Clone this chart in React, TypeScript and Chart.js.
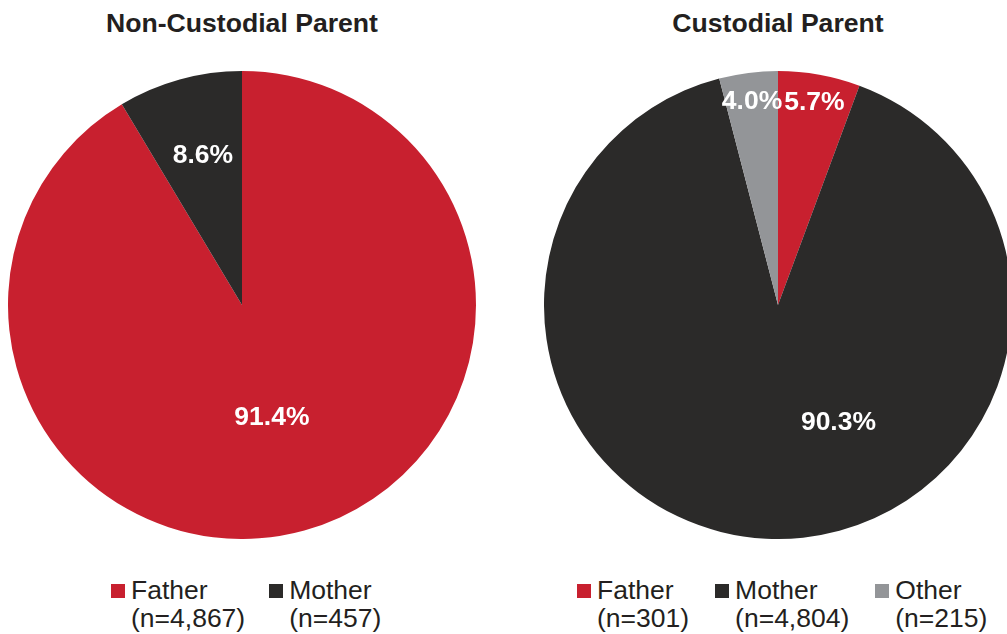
import React, { useEffect, useRef } from "react";
import { Chart, registerables } from "chart.js";

Chart.register(...registerables);

// ---- Data ----
const leftTitle = "Non-Custodial Parent";
const leftCategories = ["Father", "Mother"];
const leftCounts = [4867, 457];
const leftColors = ["#C8202F", "#2B2A29"];
// label placement: [fraction along slice angle, fraction of radius]
const leftLabelAngleFrac = [0.502, 0.525];
const leftLabelRadiusFrac = [0.5, 0.66];

const rightTitle = "Custodial Parent";
const rightCategories = ["Father", "Mother", "Other"];
const rightCounts = [301, 4804, 215];
const rightColors = ["#C8202F", "#2B2A29", "#939598"];
const rightLabelAngleFrac = [0.5, 0.4075, 0.5];
const rightLabelRadiusFrac = [0.88, 0.566, 0.876];

const FONT = "'Liberation Sans', Arial, Helvetica, sans-serif";
const TEXT_COLOR = "#231F20";

const fmtN = (n: number) => n.toLocaleString("en-US");

function makeLabelPlugin(angleFrac: number[], radiusFrac: number[]) {
  return {
    id: "sliceLabels",
    afterDatasetsDraw(chart: any) {
      const ctx = chart.ctx;
      const meta = chart.getDatasetMeta(0);
      const data: number[] = chart.data.datasets[0].data;
      const total = data.reduce((a, b) => a + b, 0);
      ctx.save();
      ctx.fillStyle = "#FFFFFF";
      ctx.font = `bold 26.5px ${FONT}`;
      ctx.textAlign = "center";
      ctx.textBaseline = "middle";
      meta.data.forEach((el: any, i: number) => {
        const p = el.getProps(["x", "y", "startAngle", "endAngle", "outerRadius"], true);
        const a = p.startAngle + (p.endAngle - p.startAngle) * angleFrac[i];
        const r = p.outerRadius * radiusFrac[i];
        const x = p.x + Math.cos(a) * r;
        const y = p.y + Math.sin(a) * r;
        const pct = ((data[i] / total) * 100).toFixed(1) + "%";
        ctx.fillText(pct, x, y);
      });
      ctx.restore();
    },
  };
}

function PieCanvas(props: {
  labels: string[];
  counts: number[];
  colors: string[];
  angleFrac: number[];
  radiusFrac: number[];
  style: React.CSSProperties;
}) {
  const ref = useRef<HTMLCanvasElement | null>(null);
  useEffect(() => {
    if (!ref.current) return;
    const chart = new Chart(ref.current, {
      type: "pie",
      data: {
        labels: props.labels,
        datasets: [
          {
            data: props.counts,
            backgroundColor: props.colors,
            borderWidth: 0,
          },
        ],
      },
      options: {
        animation: false,
        responsive: false,
        maintainAspectRatio: false,
        layout: { padding: 0 },
        plugins: {
          legend: { display: false },
          tooltip: { enabled: false },
          title: { display: false },
        },
      },
      plugins: [makeLabelPlugin(props.angleFrac, props.radiusFrac)],
    });
    return () => chart.destroy();
  }, []);
  return <canvas ref={ref} width={468} height={468} style={{ position: "absolute", width: 468, height: 468, ...props.style }} />;
}

function Legend(props: { labels: string[]; counts: number[]; colors: string[]; left: number; gap: number }) {
  return (
    <div
      style={{
        position: "absolute",
        left: props.left,
        top: 576,
        display: "flex",
        gap: props.gap,
        fontFamily: FONT,
        fontSize: 26.5,
        color: TEXT_COLOR,
        lineHeight: "28px",
        whiteSpace: "nowrap",
      }}
    >
      {props.labels.map((l, i) => (
        <div key={l} style={{ display: "flex", alignItems: "flex-start" }}>
          <div style={{ width: 14, height: 14, background: props.colors[i], marginTop: 8, marginRight: 6 }} />
          <div>
            <div>{l}</div>
            <div>({"n=" + fmtN(props.counts[i])})</div>
          </div>
        </div>
      ))}
    </div>
  );
}

function Title(props: { text: string; cx: number }) {
  return (
    <div
      style={{
        position: "absolute",
        left: props.cx - 250,
        width: 500,
        top: 8,
        textAlign: "center",
        fontFamily: FONT,
        fontWeight: "bold",
        fontSize: 26.6,
        lineHeight: "30px",
        color: TEXT_COLOR,
      }}
    >
      {props.text}
    </div>
  );
}

export default function App() {
  useEffect(() => {
    document.body.style.margin = "0";
  }, []);
  return (
    <div
      style={{
        position: "absolute",
        left: 0,
        top: 0,
        width: 1007,
        height: 634,
        overflow: "hidden",
        background: "#FFFFFF",
      }}
    >
      <Title text={leftTitle} cx={242} />
      <Title text={rightTitle} cx={778} />
      <PieCanvas
        labels={leftCategories}
        counts={leftCounts}
        colors={leftColors}
        angleFrac={leftLabelAngleFrac}
        radiusFrac={leftLabelRadiusFrac}
        style={{ left: 8, top: 71 }}
      />
      <PieCanvas
        labels={rightCategories}
        counts={rightCounts}
        colors={rightColors}
        angleFrac={rightLabelAngleFrac}
        radiusFrac={rightLabelRadiusFrac}
        style={{ left: 544, top: 71 }}
      />
      <Legend labels={leftCategories} counts={leftCounts} colors={leftColors} left={111} gap={24} />
      <Legend labels={rightCategories} counts={rightCounts} colors={rightColors} left={577} gap={26} />
    </div>
  );
}
